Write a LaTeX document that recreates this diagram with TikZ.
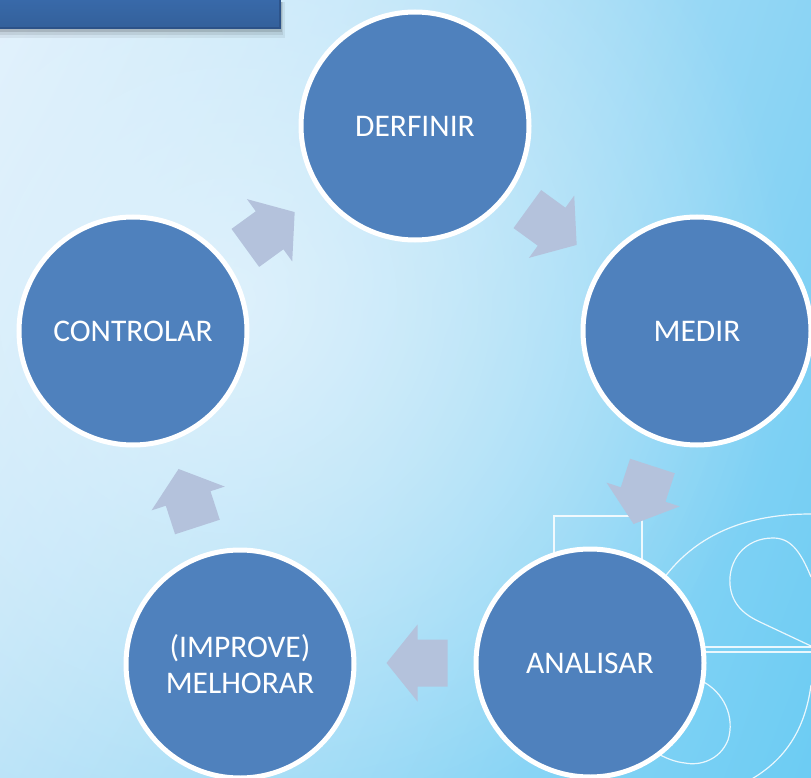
\documentclass[tikz,border=0pt]{standalone}
\usepackage{fontspec}
\setmainfont{Carlito}
\usetikzlibrary{fadings,shadings}
\definecolor{circblue}{HTML}{4F81BD}
\definecolor{arrowc}{HTML}{B4C2DC}
\definecolor{bgTL}{HTML}{E2F1FC}
\definecolor{bgTR}{HTML}{8CD4F4}
\definecolor{bgBL}{HTML}{BAE3F8}
\definecolor{bgBR}{HTML}{6CCCF3}
\definecolor{bgGlow}{HTML}{E4F3FC}
\definecolor{barblue}{HTML}{3869A9}
\definecolor{bardark}{HTML}{2C5288}
\tikzfading[name=glowfade, inner color=transparent!0, outer color=transparent!100]
\begin{document}
\begin{tikzpicture}[x=1pt,y=1pt,
  stage/.style={circle, fill=circblue, draw=white, line width=5pt, minimum size=228pt,
    inner sep=0pt, text=white, font=\fontsize{31.5}{36}\selectfont, align=center},
  wmark/.style={draw=white, line width=1.2pt, draw opacity=0.85},
  cyclearrow/.pic={\fill[arrowc] (30.5,0) -- (-0.5,38.5) -- (-0.5,23.5) -- (-30.5,23.5)
     -- (-30.5,-23.5) -- (-0.5,-23.5) -- (-0.5,-38.5) -- cycle;}]
\useasboundingbox (0,0) rectangle (811,-778);
% background
\shade[upper left=bgTL, upper right=bgTR, lower left=bgBL, lower right=bgBR] (0,0) rectangle (811,-778);
\fill[bgGlow, path fading=glowfade, fill opacity=0.85] (230,-300) circle (560);
% 5S watermark
\draw[wmark] (554,-700) -- (554,-516) -- (642,-516) -- (642,-610);
\draw[wmark] (700,-647) -- (811,-647);
\draw[wmark] (700,-652) -- (811,-652);
\draw[wmark] (650,-600) .. controls (685,-535) and (745,-514) .. (811,-514);
\draw[wmark] (811,-577) .. controls (800,-550) and (790,-538) .. (773,-538)
  .. controls (745,-538) and (728,-560) .. (730,-585)
  .. controls (732,-605) and (745,-615) .. (760,-622) -- (811,-646);
\draw[wmark] (811,-685) .. controls (805,-730) and (785,-760) .. (750,-780);
\draw[wmark] (700,-680) .. controls (725,-692) and (735,-718) .. (728,-740)
  .. controls (720,-760) and (700,-766) .. (685,-763)
  .. controls (675,-762) and (665,-758) .. (655,-752);
% top bar with shadow
\fill[black, opacity=0.06] (0,-2) rectangle (285,-38);
\fill[black, opacity=0.08] (0,-2) rectangle (283,-35);
\fill[black, opacity=0.12] (0,-2) rectangle (282,-32);
\fill[bardark] (0,0) rectangle (281,-29);
\shade[top color=barblue, bottom color=barblue!92!black] (0,0) rectangle (279,-27);
% arrows
\pic[rotate=-36] at (552,-227) {cyclearrow};
\pic[rotate=-108] at (643,-495) {cyclearrow};
\pic[rotate=180] at (417,-663) {cyclearrow};
\pic[rotate=108] at (188,-498) {cyclearrow};
\pic[rotate=36] at (270,-230) {cyclearrow};
% stages
\node[stage] (def) at (415,-126) {DERFINIR};
\node[stage] (med) at (697,-331) {MEDIR};
\node[stage] (ana) at (590,-663) {ANALISAR};
\node[stage] (mel) at (240,-664) {(IMPROVE)\\MELHORAR};
\node[stage] (con) at (133,-331) {CONTROLAR};
\end{tikzpicture}
\end{document}
